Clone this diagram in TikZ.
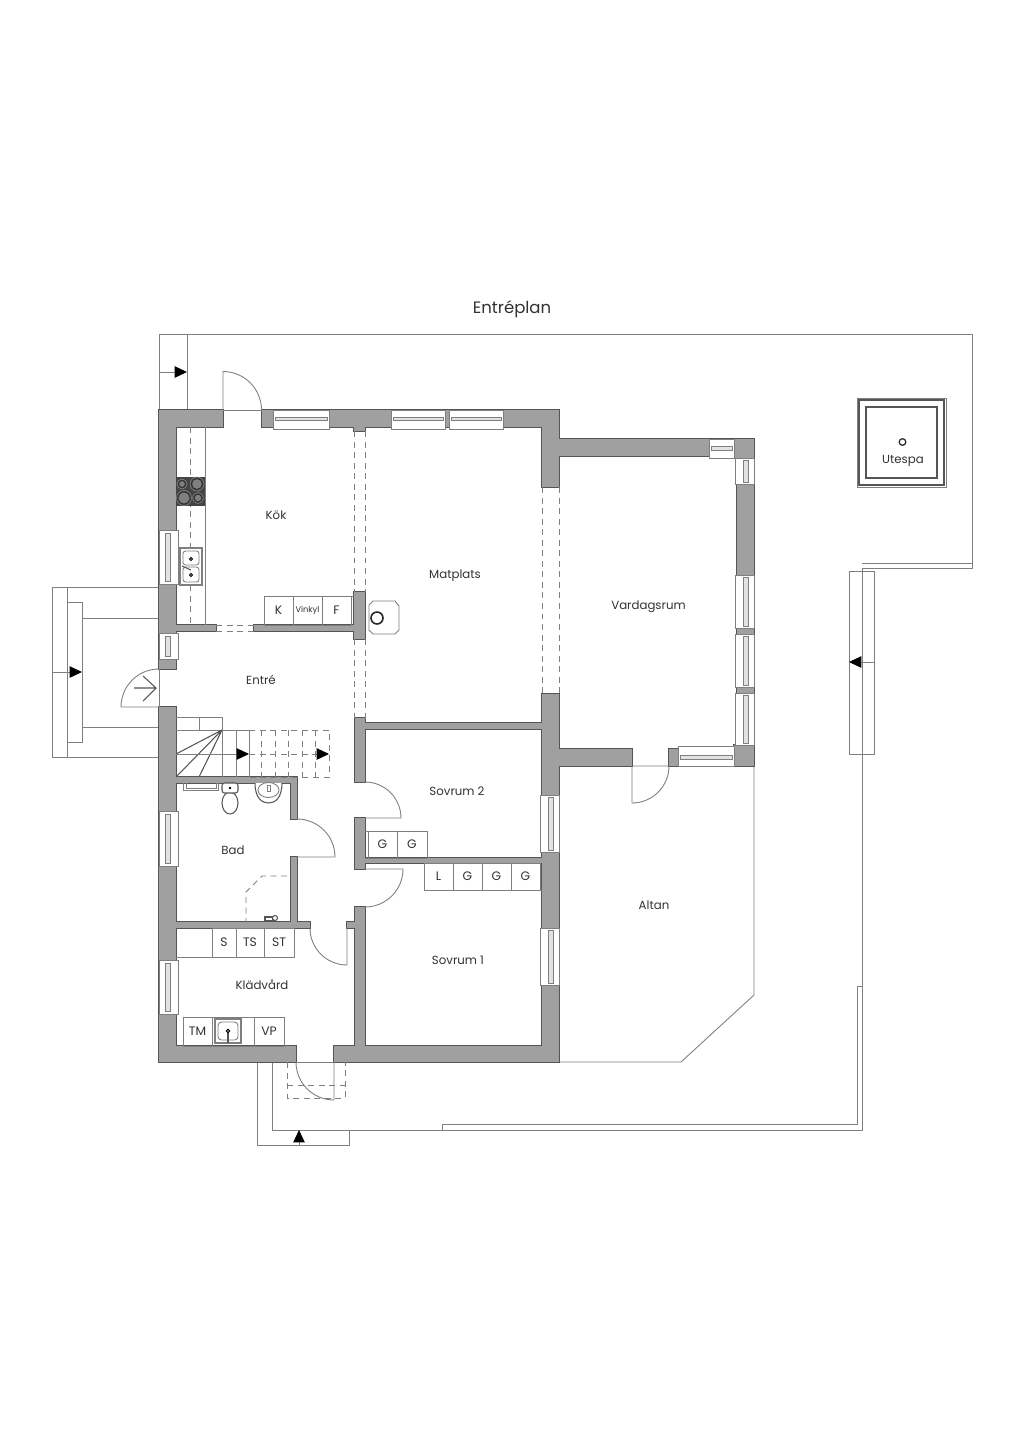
\documentclass[tikz,border=0pt]{standalone}
\usepackage{fontspec}
\setmainfont{Poppins}
\usetikzlibrary{arrows.meta}
\definecolor{wallgray}{HTML}{A0A0A0}
\definecolor{walledge}{HTML}{555555}
\definecolor{linegray}{HTML}{7F7F7F}
\definecolor{glassgray}{HTML}{E2E2E2}
\definecolor{hobgray}{HTML}{444444}
\newcommand{\doorarc}[5]{\draw[thinline] (#1,#2) -- ++(#3:#5) arc[start angle=#3,end angle=#4,radius=#5];}
\begin{document}
\begin{tikzpicture}[x=0.02cm,y=-0.02cm,>={Triangle[length=7pt,width=6.5pt]},
  thinline/.style={draw=linegray,line width=0.5pt},
  dashline/.style={draw=linegray,line width=0.5pt,dash pattern=on 3.4pt off 2.6pt},
  flowline/.style={draw=linegray,line width=0.5pt,->,>={Triangle[length=7pt,width=6.5pt,black]}},
  darkline/.style={draw=walledge,line width=0.6pt},
  winframe/.style={fill=white,draw=linegray,line width=0.5pt},
  winglass/.style={fill=glassgray,draw=linegray,line width=0.4pt},
  room label/.style={font=\fontsize{6.7}{9}\selectfont,text=black!80,inner sep=0pt},
  box label/.style={font=\fontsize{7}{9}\selectfont,text=black!80,inner sep=0pt}]
  \useasboundingbox (0,0) rectangle (1024,1448);
  \fill[white] (0,0) rectangle (1024,1448);

  % lot lines
  \draw[thinline] (159,410) -- (159,334) -- (972,334) -- (972,568) -- (862,568) -- (862,1130) -- (272,1130) -- (272,1062);
  \draw[thinline] (862,563) -- (972,563);
  \draw[thinline] (187,334) -- (187,410);
  \draw[thinline] (862,986) -- (857,986) -- (857,1124) -- (442,1124) -- (442,1130);
  \draw[thinline] (257,1062) -- (257,1145) -- (349,1145) -- (349,1130);
  \draw[thinline] (849,571) rectangle (874,754);
  % altan
  \draw[thinline] (559,766) -- (754,766) -- (754,995) -- (681,1062) -- (558,1062);
  % west steps
  \draw[thinline] (159,587) -- (52,587) -- (52,757) -- (159,757);
  \draw[thinline] (67,587) -- (67,757);
  \draw[thinline] (67,602) rectangle (82,742);
  \draw[thinline] (82,618) -- (159,618);
  \draw[thinline] (82,727) -- (159,727);
  % arrows
  \coordinate (gateA) at (159,372);
  \coordinate (gateB) at (187,372);
  \draw[flowline] (gateA) -- (gateB);
  \coordinate (westA) at (52,672);
  \coordinate (westB) at (82,672);
  \draw[flowline] (westA) -- (westB);
  \coordinate (eastA) at (874,662);
  \coordinate (eastB) at (849,662);
  \draw[flowline] (eastA) -- (eastB);
  \coordinate (southA) at (299,1145);
  \coordinate (southB) at (299,1130);
  \draw[flowline] (southA) -- (southB);

  % walls, edge pass then fill pass
  \foreach \a/\b/\c/\d in {159/410/223/427,262/410/558/427,159/410/176/669,159/707/176/1062,
    159/1046/296/1062,334/1046/558/1062,542/410/559/487,542/694/559/1062,559/439/754/456,
    734/439/754/458,737/439/754/766,734/745/754/766,559/749/632/766,669/749/754/766,
    176/625/216/631,254/625/355/631,354/592/365/639,354/427/365/431,355/718/365/782,
    355/818/365/869,355/907/365/1046,365/723/542/729,365/858/542/863,176/777/297/783,
    291/777/297/819,291/857/297/922,176/922/310/928,347/922/355/928}
    \draw[darkline] (\a,\b) rectangle (\c,\d);
  \foreach \a/\b/\c/\d in {159/410/223/427,262/410/558/427,159/410/176/669,159/707/176/1062,
    159/1046/296/1062,334/1046/558/1062,542/410/559/487,542/694/559/1062,559/439/754/456,
    734/439/754/458,737/439/754/766,734/745/754/766,559/749/632/766,669/749/754/766,
    176/625/216/631,254/625/355/631,354/592/365/639,354/427/365/431,355/718/365/782,
    355/818/365/869,355/907/365/1046,365/723/542/729,365/858/542/863,176/777/297/783,
    291/777/297/819,291/857/297/922,176/922/310/928,347/922/355/928}
    \fill[wallgray] (\a,\b) rectangle (\c,\d);

  % windows
  \foreach \a/\b in {273/329,391/445,449/503} {
    \draw[winframe] (\a,410) rectangle (\b,429);
    \draw[winglass] (\a+2,417) rectangle (\b-2,420.5);
  }
  \draw[winframe] (709,439) rectangle (734,458);
  \draw[winglass] (711,446) rectangle (732,450);
  \draw[winframe] (678,746) rectangle (734,766);
  \draw[winglass] (680,755) rectangle (732,759);
  \foreach \a/\b in {530/584,633/659,811/866,960/1014} {
    \draw[winframe] (159,\a) rectangle (178,\b);
    \draw[winglass] (165,\a+3) rectangle (170,\b-3);
  }
  \foreach \a/\b in {458/484,575/628,634/687,693/745} {
    \draw[winframe] (735,\a) rectangle (754,\b);
    \draw[winglass] (743,\a+2) rectangle (748,\b-2);
  }
  \foreach \a/\b in {795/852,928/985} {
    \draw[winframe] (540,\a) rectangle (559,\b);
    \draw[winglass] (548,\a+2) rectangle (553,\b-2);
  }

  % doors
  \doorarc{223}{410}{-90}{0}{38.5}
  \doorarc{159}{707}{180}{270}{38}
  \doorarc{297}{857}{0}{-90}{38}
  \doorarc{365}{818}{0}{-90}{36}
  \doorarc{365}{869}{0}{90}{38}
  \doorarc{347}{928}{90}{180}{37}
  \doorarc{334}{1062}{90}{180}{38}
  \doorarc{632}{766}{90}{0}{37}
  \draw[thinline] (223,410) -- (262,410);
  \draw[thinline] (159,669) -- (159,707);
  \draw[thinline] (296,1062) -- (334,1062);
  % entry sign
  \draw[darkline] (134,688) -- (156,688) (143,676) -- (156,688) -- (143,701);

  % dashed openings
  \draw[dashline] (354,431) -- (354,592) (365,431) -- (365,592);
  \draw[dashline] (354,639) -- (354,718) (365,639) -- (365,723);
  \draw[dashline] (542,487) -- (542,694) (559,487) -- (559,694);
  \draw[dashline] (216,625) -- (254,625) (216,631) -- (254,631);
  \draw[dashline] (287,1062) -- (287,1098) -- (345,1098) -- (345,1062);
  \draw[dashline] (287,1085) -- (345,1085);
  \draw[dashline] (287,876) -- (262,876) -- (246,892) -- (246,922);

  % kitchen
  \draw[thinline] (205,427) -- (205,625);
  \draw[dashline] (190,427) -- (190,625);
  \fill[hobgray] (176,477) rectangle (205,506);
  \foreach \x/\y/\r in {182/484/3.5,197/484/5.5,184/498/6,198/498/4}
    \draw[fill=linegray,draw=black!80,line width=0.6pt] (\x,\y) circle[radius=\r];
  \foreach \x/\y/\r in {182/484/5,197/484/7,184/498/7.5,198/498/5.5}
    \draw[draw=black!45,line width=0.3pt] (\x,\y) circle[radius=\r];
  \draw[fill=white,draw=linegray,line width=0.8pt] (180,548) rectangle (202,585);
  \draw[thinline,rounded corners=1.5pt] (183,551) rectangle (199,565);
  \draw[thinline,rounded corners=1.5pt] (183,567) rectangle (199,582);
  \foreach \y in {559,575}
    \draw[fill=linegray,draw=black] (191,\y) circle[radius=1.7];
  \draw[darkline] (182,566) -- (191,570);
  % box units
  \foreach \lbl/\a/\b/\c/\d [count=\i] in {K/264/596/293/625,F/322/596/351/625,
    G/368/831/397/858,G/397/831/427/858,L/424/863/453/890,G/453/863/482/890,
    G/482/863/511/890,G/511/863/540/890,S/212/928/236/957,TS/236/928/264/957,
    ST/264/928/294/957,TM/183/1017/212/1046,VP/254/1017/284/1046}
    \draw[thinline] (\a,\b) rectangle node[box label] (unit\i) {\lbl} (\c,\d);
  \draw[thinline] (293,596) rectangle node[box label,font=\fontsize{4.7}{6}\selectfont] (unitV) {Vinkyl} (322,625);
  \draw[thinline] (351,596) -- (354,596);
  \draw[thinline] (365,831) -- (368,831) (368,858) -- (365,858);
  \draw[thinline] (540,863) -- (540,890) -- (542,890);
  \draw[thinline] (176,957) -- (212,957);
  \draw[thinline] (212,1017) rectangle (254,1046);
  % utility sink
  \draw[draw=linegray,line width=0.9pt,fill=white] (215,1019) rectangle (241,1043);
  \draw[thinline,rounded corners=2pt] (218,1022) rectangle (238,1040);
  \draw[darkline] (228,1031) -- (228,1043);
  \draw[fill=linegray,draw=black] (228,1031) circle[radius=1.8];

  % stair
  \draw[thinline] (176,717) -- (222,717) -- (222,777);
  \draw[thinline] (199,717) -- (199,730);
  \draw[thinline] (176,730) -- (249,730);
  \draw[thinline] (236,730) -- (236,777) (249,730) -- (249,777);
  \draw[darkline] (222,730) -- (176,754) (222,730) -- (176,777) (222,730) -- (199,777);
  \coordinate (stairA) at (176,754);
  \coordinate (stairB) at (249,754);
  \draw[flowline] (stairA) -- (stairB);
  \draw[dashline] (249,730) -- (329,730) -- (329,777) -- (249,777);
  \foreach \x in {261,275,288,302,315}
    \draw[dashline] (\x,730) -- (\x,777);
  \coordinate (stairC) at (317,754);
  \coordinate (stairD) at (329,754);
  \draw[dashline] (stairB) -- (stairC);
  \draw[flowline] (stairC) -- (stairD);

  % bath
  \draw[thinline] (183,783) -- (183,790) -- (218,790) -- (218,783);
  \draw[thinline] (186,783) -- (186,788) -- (216,788) -- (216,783);
  \draw[fill=white,darkline] (230,803) ellipse[x radius=8,y radius=11];
  \draw[fill=white,darkline,rounded corners=1.5pt] (222,783) rectangle (238,793);
  \fill[black] (230,788) circle[radius=1.4];
  \draw[darkline,fill=white] (255,783) .. controls (255,798) and (262,803) .. (268.5,803) .. controls (275,803) and (282,798) .. (282,783);
  \draw[thinline] (268.5,790) ellipse[x radius=10.5,y radius=7.5];
  \draw[thinline,fill=white] (267,785) rectangle (270,791);
  \draw[darkline,fill=white] (265,917) rectangle (273,921);
  \draw[darkline,fill=white] (275,918) circle[radius=2.5];

  % fireplace
  \draw[thinline] (373,601) -- (395,601) -- (399,606) -- (399,630) -- (395,634) -- (373,634) -- (369,630) -- (369,605) -- cycle;
  \draw[draw=black!85,line width=0.9pt] (377,618) circle[radius=6];

  % spa
  \draw[thinline] (857,398) rectangle (946,487);
  \draw[darkline,line width=0.9pt] (859,400) rectangle (944,485);
  \draw[darkline,line width=0.9pt] (866,407) rectangle (937,478);
  \draw[draw=black!85,line width=0.7pt] (902.5,442) circle[radius=3.3];

  % labels
  \node[room label,font=\fontsize{9.4}{12}\selectfont] (title) at (512,309.5) {Entréplan};
  \node[room label] (kok) at (276,515.5) {Kök};
  \node[room label] (matplats) at (455,575.5) {Matplats};
  \node[room label] (vardagsrum) at (648.5,606.5) {Vardagsrum};
  \node[room label] (entre) at (261,680) {Entré};
  \node[room label] (sovrum2) at (457,791.5) {Sovrum 2};
  \node[room label] (bad) at (233,850.5) {Bad};
  \node[room label] (altan) at (654,905.5) {Altan};
  \node[room label] (sovrum1) at (458,960) {Sovrum 1};
  \node[room label] (kladvard) at (262,985) {Klädvård};
  \node[room label] (utespa) at (903,460.5) {Utespa};
\end{tikzpicture}
\end{document}
